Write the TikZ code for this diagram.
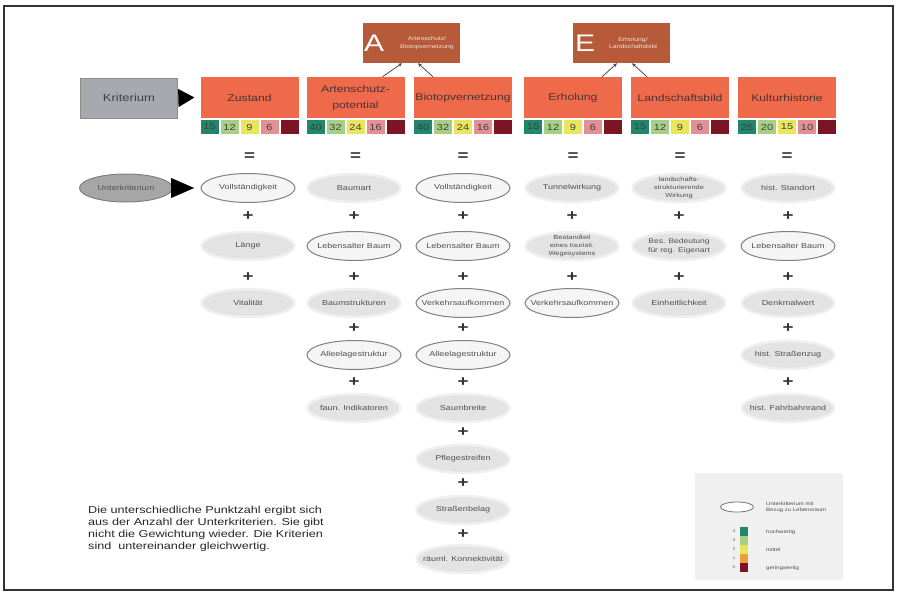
\documentclass[tikz,border=0pt]{standalone}
\usepackage{fontspec}
\setmainfont{Liberation Sans}[FakeStretch=1.25]
\usetikzlibrary{shapes.geometric,arrows.meta}
\definecolor{crit}{HTML}{EE6A4B}
\definecolor{topbox}{HTML}{B65A3A}
\definecolor{crittext}{HTML}{4A3434}
\definecolor{softgrey}{HTML}{E3E3E3}
\definecolor{subtext}{HTML}{505050}
\definecolor{cteal}{HTML}{21876A}
\definecolor{cgreen}{HTML}{A6CF84}
\definecolor{cyellow}{HTML}{E9E55C}
\definecolor{corange}{HTML}{E8A040}
\definecolor{cpink}{HTML}{E39094}
\definecolor{cdark}{HTML}{7B1526}
\definecolor{greybox}{HTML}{A7A9AF}
\begin{document}
\begin{tikzpicture}[x=1pt,y=-1pt,
  critbox/.style={fill=crit, minimum width=98pt, minimum height=41pt, inner sep=0pt, align=center,
    font=\fontsize{9.8}{16}\selectfont, text=crittext},
  topnode/.style={fill=topbox, minimum width=97pt, minimum height=40pt, inner sep=0pt},
  sub/.style={ellipse, fill=softgrey, draw=softgrey!55!white, line width=2.5pt, minimum width=93pt, minimum height=28pt,
    inner xsep=-25pt, inner ysep=-12pt, align=center, font=\fontsize{7.2}{9}\selectfont, text=subtext},
  subo/.style={sub, fill=white!96!black, draw=black!50, line width=1pt, minimum width=94pt, minimum height=29pt},
  two/.style={font=\fontsize{6.8}{8.5}\selectfont},
  three/.style={font=\fontsize{6}{8}\selectfont},
  op/.style={font=\fontsize{15}{15}\selectfont\bfseries, text=black!80, inner sep=0pt},
  cell/.style={minimum width=18pt, minimum height=14pt, inner sep=0pt, font=\fontsize{8.8}{8.8}\selectfont, text=black!75},
  conn/.style={draw=black!70, line width=0.8pt, -{Stealth[length=4pt,width=3.5pt]}},
  legtext/.style={font=\fontsize{4.8}{5.8}\selectfont, text=black!70, anchor=west, align=left, inner sep=0pt}
]
\useasboundingbox (0,0) rectangle (897,592);
\fill[white] (0,0) rectangle (897,592);
\draw[line width=1.3pt, black!80] (4,6) rectangle (893,590);

% top boxes
\node[topnode] (A) at (411,43) {};
\node[font=\fontsize{24}{24}\selectfont, text=white, anchor=west, inner sep=0pt] (Aletter) at (364,43) {A};
\node[font=\fontsize{5.5}{7.5}\selectfont, text=white!80!topbox, align=center, inner sep=0pt] (Atext) at (427,43) {Artenschutz/\\Biotopvernetzung};
\node[topnode] (E) at (621,43) {};
\node[font=\fontsize{24}{24}\selectfont, text=white, anchor=west, inner sep=0pt] (Eletter) at (575,43) {E};
\node[font=\fontsize{5.5}{7.5}\selectfont, text=white!80!topbox, align=center, inner sep=0pt] (Etext) at (633,43) {Erholung/\\Landschaftsbild};

% criteria
\node[fill=greybox, draw=black!45, minimum width=97pt, minimum height=40pt, font=\fontsize{10.4}{12}\selectfont, text=black!75] (krit) at (129,98) {Kriterium};
\node[critbox] (zust) at (249.5,97.5) {Zustand};
\node[critbox] (arten) at (355.5,97.5) {Artenschutz-\\potential};
\node[critbox] (biotop) at (463,97.5) {Biotopvernetzung};
\node[critbox] (erh) at (573,97.5) {Erholung};
\node[critbox] (land) at (680,97.5) {Landschaftsbild};
\node[critbox] (kult) at (787,97.5) {Kulturhistorie};

\draw[draw=black, line width=0.1pt, -{Triangle[length=16pt,width=18pt]}] (krit.east) -- ([xshift=-6pt]zust.west);

\draw[conn] ([xshift=27pt]arten.north) -- ([xshift=-9pt]A.south);
\draw[conn] ([xshift=-30pt]biotop.north) -- ([xshift=7pt]A.south);
\draw[conn] ([xshift=29pt]erh.north) -- ([xshift=-4pt]E.south);
\draw[conn] ([xshift=-33pt]land.north) -- ([xshift=11pt]E.south);

% score cells
\foreach \cx/\a/\b/\c/\d/\nm in {249.5/15/12/9/6/z, 355.5/40/32/24/16/a, 463/40/32/24/16/b, 573/15/12/9/6/e, 680/15/12/9/6/l, 787/25/20/15/10/k}{
  \node[cell, fill=cteal] (s\nm1) at (\cx-40,127) {\a};
  \node[cell, fill=cgreen] (s\nm2) at (\cx-20,127) {\b};
  \node[cell, fill=cyellow] (s\nm3) at (\cx,127) {\c};
  \node[cell, fill=cpink] (s\nm4) at (\cx+20,127) {\d};
  \node[cell, fill=cdark] (s\nm5) at (\cx+40,127) {};
  \node[op] (eq\nm) at (\cx,157) {=};
}

% Unterkriterium
\node[sub, fill=black!35, draw=black!50, line width=1pt] (unter) at (126,188) {Unterkriterium};
\draw[draw=black, line width=0.1pt, -{Triangle[length=23pt,width=20pt]}] (unter.east) -- (194,188);

% Zustand column
\node[subo] (z1) at (248,188) {Vollständigkeit};
\node[op] (zp1) at (248,216) {+};
\node[sub] (z2) at (248,246) {Länge};
\node[op] (zp2) at (248,277) {+};
\node[sub] (z3) at (248,303) {Vitalität};

% Artenschutz column
\node[sub] (a1) at (354,188) {Baumart};
\node[op] (ap1) at (354,216) {+};
\node[subo] (a2) at (354,246) {Lebensalter Baum};
\node[op] (ap2) at (354,277) {+};
\node[sub] (a3) at (354,303) {Baumstrukturen};
\node[op] (ap3) at (354,328) {+};
\node[subo] (a4) at (354,355) {Alleelagestruktur};
\node[op] (ap4) at (354,382) {+};
\node[sub] (a5) at (354,408) {faun. Indikatoren};

% Biotopvernetzung column
\node[subo] (b1) at (463,188) {Vollständigkeit};
\node[op] (bp1) at (463,216) {+};
\node[subo] (b2) at (463,246) {Lebensalter Baum};
\node[op] (bp2) at (463,277) {+};
\node[subo] (b3) at (463,303) {Verkehrsaufkommen};
\node[op] (bp3) at (463,328) {+};
\node[subo] (b4) at (463,355) {Alleelagestruktur};
\node[op] (bp4) at (463,382) {+};
\node[sub] (b5) at (463,408) {Saumbreite};
\node[op] (bp5) at (463,432) {+};
\node[sub] (b6) at (463,459) {Pflegestreifen};
\node[op] (bp6) at (463,483) {+};
\node[sub] (b7) at (463,510) {Straßenbelag};
\node[op] (bp7) at (463,534) {+};
\node[sub] (b8) at (463,559) {räuml. Konnektivität};

% Erholung column
\node[sub] (e1) at (572,188) {Tunnelwirkung};
\node[op] (ep1) at (572,216) {+};
\node[sub, three] (e2) at (572,246) {Bestandteil\\eines touristi.\\Wegesystems};
\node[op] (ep2) at (572,277) {+};
\node[subo] (e3) at (572,303) {Verkehrsaufkommen};

% Landschaftsbild column
\node[sub, three] (l1) at (679,188) {landschafts-\\strukturierende\\Wirkung};
\node[op] (lp1) at (679,216) {+};
\node[sub, two] (l2) at (679,246) {Bes. Bedeutung\\für reg. Eigenart};
\node[op] (lp2) at (679,277) {+};
\node[sub] (l3) at (679,303) {Einheitlichkeit};

% Kulturhistorie column
\node[sub] (k1) at (788,188) {hist. Standort};
\node[op] (kp1) at (788,216) {+};
\node[subo] (k2) at (788,246) {Lebensalter Baum};
\node[op] (kp2) at (788,277) {+};
\node[sub] (k3) at (788,303) {Denkmalwert};
\node[op] (kp3) at (788,328) {+};
\node[sub] (k4) at (788,355) {hist. Straßenzug};
\node[op] (kp4) at (788,382) {+};
\node[sub] (k5) at (788,408) {hist. Fahrbahnrand};

% note
\node[anchor=north west, align=left, inner sep=0pt, font=\fontsize{10.1}{12}\selectfont, text=black!85] (note) at (88,506)
  {Die unterschiedliche Punktzahl ergibt sich\\aus der Anzahl der Unterkriterien. Sie gibt\\nicht die Gewichtung wieder. Die Kriterien\\sind\ \ untereinander gleichwertig.};

% legend
\node[fill=black!6, minimum width=148pt, minimum height=107pt, inner sep=0pt, anchor=north west] (leg) at (695,473) {};
\node[ellipse, fill=white, draw=black!55, line width=0.8pt, minimum width=33pt, minimum height=10pt, inner sep=0pt] (legell) at (737,507) {};
\node[legtext] (legt1) at (766,507) {Unterkriterium mit\\Bezug zu Lebensraum};
\foreach \i/\col/\n in {0/cteal/4,1/cgreen/3,2/cyellow/2,3/corange/1,4/cdark/0}{
  \node[minimum width=8pt, minimum height=9pt, inner sep=0pt, fill=\col] (lc\i) at (744,531.5+9*\i) {};
  \node[font=\fontsize{4}{4}\selectfont, text=black!60, inner sep=0pt] (ln\i) at (734,531.5+9*\i) {\n};
}
\node[legtext] (lt1) at (766,532) {hochwertig};
\node[legtext] (lt2) at (766,550) {mittel};
\node[legtext] (lt3) at (766,568) {geringwertig};
\end{tikzpicture}
\end{document}
